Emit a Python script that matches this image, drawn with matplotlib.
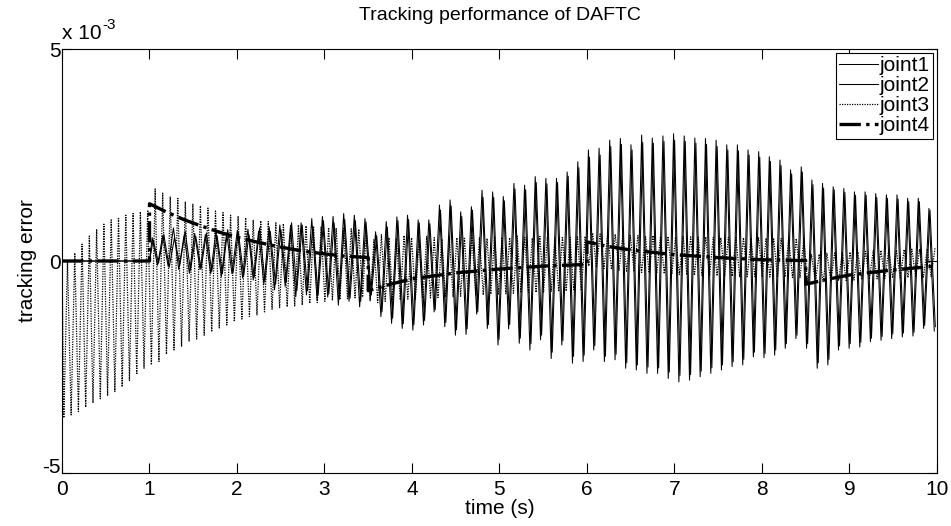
import numpy as np
import matplotlib.pyplot as plt

# values in units of 1e-3
# joint1 / joint2: one top and one bottom per oscillation cycle, 74 cycles from t=1 s to t=10 s
j1_tops = [0.55, 0.6, 0.78, 0.6, 0.65, 0.62, 0.7, 0.66, 0.72, 0.75, 0.7, 0.8, 0.85, 0.82, 0.9, 1.0, 1.05, 1.05, 1.12, 1.08, 1.0,
           0.69, 0.93, 1.04, 1.08, 0.97, 0.97, 1.32, 1.44, 1.16, 1.28, 1.67, 1.63, 1.52, 1.83, 1.79, 1.99, 1.95, 1.95, 2.1, 2.34, 2.62,
           2.66, 2.85, 2.89, 2.74, 2.97, 2.9, 2.95, 3.0, 2.95, 2.9, 2.89, 2.85, 2.74, 2.74, 2.62, 2.58, 2.46, 2.38, 2.15, 2.22,
           1.91, 1.83, 1.75, 1.71, 1.63, 1.63, 1.59, 1.56, 1.56, 1.48, 1.48, 1.24]
j1_bottoms = [-0.1, -0.12, -0.2, -0.29, -0.2, -0.3, -0.37, -0.3, -0.4, -0.45, -0.55, -0.68, -0.6, -0.84, -0.8, -0.92, -0.85, -1.04, -0.95, -1.08, -0.9,
              -1.31, -1.47, -1.59, -1.63, -1.51, -1.2, -1.55, -1.75, -1.73, -1.25, -1.59, -1.98, -1.6, -1.94, -2.1, -1.86, -2.3, -1.98, -2.41, -2.37, -2.1,
              -2.37, -2.33, -2.53, -2.57, -2.65, -2.65, -2.77, -2.85, -2.81, -2.73, -2.65, -2.57, -2.49, -2.45, -2.26, -2.28, -2.22, -2.06, -1.83, -2.06,
              -2.53, -2.45, -2.1, -2.06, -2.03, -1.9, -1.87, -1.83, -1.79, -1.77, -1.59, -1.65]
j2_tops = [0.5, 0.62, 0.55, 0.7, 0.58, 0.66, 0.6, 0.74, 0.68, 0.62, 0.78, 0.7, 0.74, 0.9, 0.85, 0.82, 0.95, 0.9, 0.98, 0.95, 0.92,
           0.6, 0.8, 0.95, 0.98, 0.9, 0.88, 1.2, 1.3, 1.05, 1.2, 1.5, 1.5, 1.42, 1.7, 1.68, 1.85, 1.82, 1.85, 2.0, 2.2, 2.45,
           2.5, 2.7, 2.75, 2.62, 2.8, 2.78, 2.82, 2.85, 2.82, 2.78, 2.75, 2.7, 2.62, 2.6, 2.5, 2.45, 2.35, 2.25, 2.05, 2.1,
           1.8, 1.72, 1.68, 1.62, 1.55, 1.55, 1.5, 1.48, 1.46, 1.4, 1.4, 1.2]
j2_bottoms = [-0.05, -0.15, -0.1, -0.22, -0.18, -0.25, -0.3, -0.28, -0.35, -0.38, -0.48, -0.55, -0.5, -0.7, -0.7, -0.8, -0.78, -0.9, -0.88, -0.95, -0.8,
              -1.2, -1.35, -1.48, -1.5, -1.4, -1.15, -1.45, -1.62, -1.6, -1.2, -1.5, -1.85, -1.5, -1.82, -1.95, -1.75, -2.15, -1.88, -2.25, -2.22, -2.0,
              -2.25, -2.2, -2.4, -2.45, -2.5, -2.52, -2.62, -2.7, -2.68, -2.6, -2.52, -2.45, -2.38, -2.32, -2.15, -2.18, -2.1, -1.95, -1.75, -1.95,
              -2.4, -2.32, -2.0, -1.95, -1.92, -1.82, -1.78, -1.72, -1.7, -1.68, -1.52, -1.55]

# joint3: per-segment cycle extremes, segments split at the switching times
j3_switch = [0.0, 1.0, 3.5, 6.0, 8.5, 10.0]
j3_bottoms = [
    [-3.7, -3.63, -3.55, -3.45, -3.35, -3.25, -3.18, -3.08, -2.97, -2.82, -2.68, -2.53],
    [-2.45, -2.37, -2.2, -2.1, -2.02, -1.9, -1.84, -1.75, -1.67, -1.58, -1.51, -1.43, -1.37, -1.31, -1.27,
     -1.2, -1.14, -1.1, -1.08, -1.06, -1.04, -1.0, -0.98, -0.95, -0.93, -0.91, -0.89, -0.87, -0.85],
    [-0.95, -0.98, -0.95, -0.93, -0.92, -0.9, -0.9, -0.88, -0.87, -0.86, -0.85, -0.84, -0.83, -0.82, -0.8,
     -0.8, -0.78, -0.78, -0.77, -0.76, -0.75, -0.74, -0.74, -0.73, -0.72, -0.72, -0.71, -0.7, -0.7],
    [-0.12, -0.15, -0.18, -0.2, -0.22, -0.24, -0.25, -0.27, -0.28, -0.29, -0.3, -0.31, -0.32, -0.33, -0.34,
     -0.34, -0.35, -0.35, -0.36, -0.36, -0.37, -0.37, -0.37, -0.38, -0.38, -0.38, -0.38, -0.39, -0.39],
    [-0.52, -0.5, -0.49, -0.48, -0.47, -0.46, -0.45, -0.44, -0.43, -0.42, -0.41, -0.4, -0.4, -0.39, -0.38, -0.38, -0.37],
]
j3_tops = [
    [0.0, 0.19, 0.4, 0.59, 0.75, 0.87, 0.97, 1.03, 1.08, 1.12, 1.16, 1.2],
    [1.7, 1.6, 1.52, 1.48, 1.4, 1.34, 1.3, 1.25, 1.18, 1.14, 1.08, 1.06, 1.02, 0.97, 0.95,
     0.93, 0.9, 0.88, 0.86, 0.85, 0.83, 0.82, 0.8, 0.79, 0.78, 0.77, 0.76, 0.75, 0.74],
    [0.5, 0.62, 0.55, 0.52, 0.6, 0.55, 0.5, 0.58, 0.55, 0.52, 0.57, 0.55, 0.56, 0.6, 0.55,
     0.53, 0.58, 0.56, 0.55, 0.59, 0.56, 0.54, 0.58, 0.57, 0.55, 0.58, 0.56, 0.57, 0.58],
    [0.66, 0.64, 0.62, 0.63, 0.61, 0.6, 0.6, 0.59, 0.6, 0.58, 0.58, 0.57, 0.58, 0.57, 0.56,
     0.57, 0.56, 0.55, 0.56, 0.55, 0.55, 0.54, 0.55, 0.54, 0.54, 0.53, 0.54, 0.53, 0.53],
    [0.15, 0.16, 0.18, 0.19, 0.2, 0.21, 0.22, 0.23, 0.24, 0.25, 0.25, 0.26, 0.27, 0.28, 0.28, 0.29, 0.3],
]

# joint4: slowly decaying error with jumps at the switching times
j4_time = [0.0, 1.0, 1.0, 1.2, 1.4, 1.6, 1.8, 2.0, 2.2, 2.4, 2.6, 2.8, 3.0, 3.2, 3.5,
           3.5, 3.75, 4.0, 4.5, 5.0, 5.5, 6.0,
           6.0, 6.25, 6.5, 7.0, 7.5, 8.0, 8.5,
           8.5, 8.75, 9.0, 9.5, 10.0]
j4_error = [0.0, 0.0, 1.35, 1.15, 0.97, 0.82, 0.68, 0.56, 0.46, 0.37, 0.29, 0.22, 0.17, 0.12, 0.08,
            -0.7, -0.55, -0.42, -0.28, -0.19, -0.12, -0.08,
            0.45, 0.34, 0.26, 0.15, 0.08, 0.03, 0.01,
            -0.55, -0.43, -0.33, -0.21, -0.12]


def zigzag(t0, t1, first, second):
    """Alternate first/second extremes, one pair per cycle, evenly across [t0, t1]."""
    n = len(first)
    period = (t1 - t0) / n
    starts = t0 + period * np.arange(n)
    t = np.column_stack([starts + period / 4, starts + 3 * period / 4]).ravel()
    v = np.column_stack([first, second]).ravel()
    return t, v


def main() -> None:
    plt.rcParams["font.family"] = ["Liberation Sans", "DejaVu Sans"]
    plt.rcParams["axes.unicode_minus"] = False

    t1, v1 = zigzag(1.0, 10.0, j1_tops, j1_bottoms)
    t1 = np.concatenate([[0.0, 1.0], t1])
    v1 = np.concatenate([[0.0, 0.0], v1])
    t2, v2 = zigzag(1.0, 10.0, j2_tops, j2_bottoms)
    t2 = np.concatenate([[0.0, 1.0], t2 + 0.012])
    v2 = np.concatenate([[0.0, 0.0], v2])

    t3, v3 = [0.0], [0.0]
    for k in range(len(j3_tops)):
        ts, vs = zigzag(j3_switch[k], j3_switch[k + 1], j3_bottoms[k], j3_tops[k])
        t3.extend(ts)
        v3.extend(vs)

    fig = plt.figure(figsize=(9.51, 5.26), dpi=100)
    ax = fig.add_axes([0.0652, 0.1008, 0.92, 0.806])

    ax.plot(t1, v1, color="black", lw=0.75, label="joint1")
    ax.plot(t2, v2, color="black", lw=0.75, label="joint2")
    ax.plot(t3, v3, color="black", lw=0.9, ls=(0, (1, 1)), label="joint3")
    ax.plot(j4_time, j4_error, color="black", lw=2.4, ls="-.", label="joint4")

    ax.set_xlim(0, 10)
    ax.set_ylim(-5, 5)
    ax.set_xticks(range(0, 11))
    ax.set_yticks([-5, 0, 5])
    ax.tick_params(direction="in", top=True, right=True, length=7, labelsize=15)
    ax.tick_params(axis="x", pad=5)
    ax.tick_params(axis="y", pad=1)
    for spine in ax.spines.values():
        spine.set_linewidth(0.8)
    # lowest y label sits just above the corner so it clears the x label "0"
    fig.canvas.draw()
    ax.get_yticklabels()[0].set_verticalalignment("baseline")

    # MATLAB-style exponent label above the y axis
    ax.annotate("x 10", xy=(0, 1), xycoords="axes fraction", xytext=(0, 4), textcoords="offset points",
                fontsize=15, ha="left", va="bottom")
    ax.annotate("-3", xy=(0, 1), xycoords="axes fraction", xytext=(29, 12), textcoords="offset points",
                fontsize=11, ha="left", va="bottom")
    ax.set_title("Tracking performance of DAFTC", fontsize=14, pad=21)
    ax.set_xlabel("time (s)", fontsize=15, labelpad=0)
    ax.set_ylabel("tracking error", fontsize=15, labelpad=4)

    leg = ax.legend(loc="upper right", fontsize=15, fancybox=False, framealpha=1, edgecolor="black",
                    handlelength=1.9, handletextpad=0.05, labelspacing=0.05, borderpad=0.15, borderaxespad=0.2)
    leg.get_frame().set_linewidth(0.8)

    fig.savefig("out.png", dpi=100)
    plt.close(fig)


if __name__ == "__main__":
    main()
